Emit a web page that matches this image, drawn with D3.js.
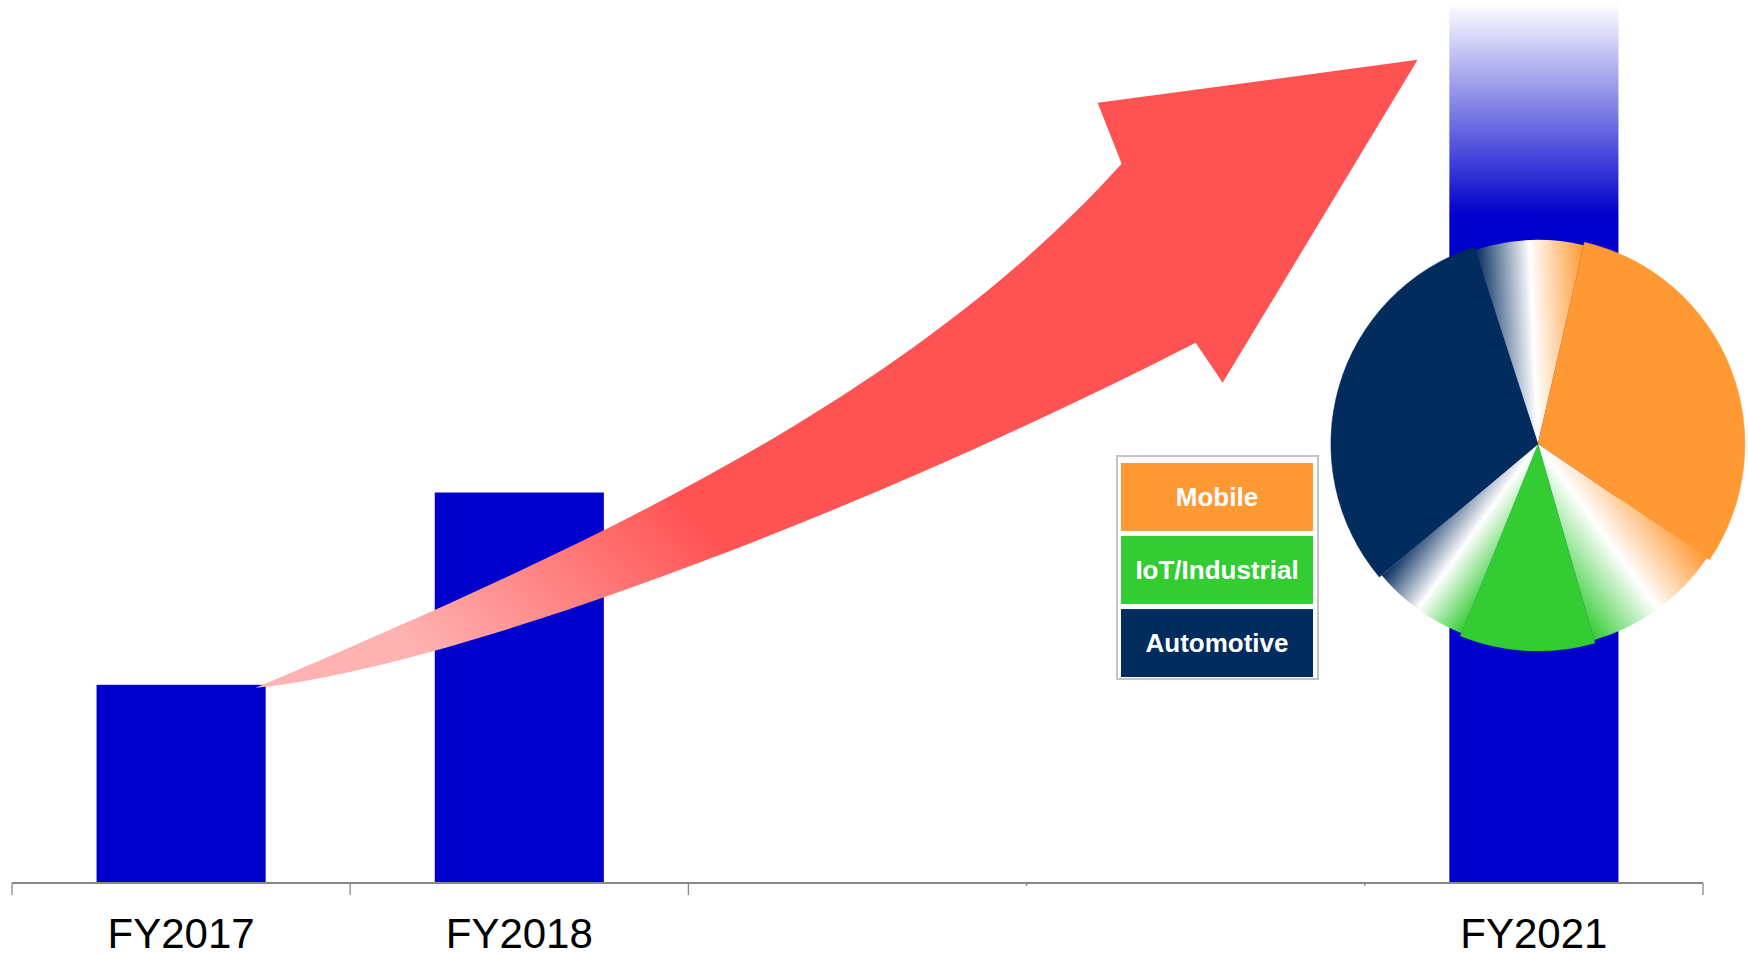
<!DOCTYPE html>
<html>
<head>
<meta charset="utf-8">
<script src="https://cdn.jsdelivr.net/npm/d3@7"></script>
<style>
  body { margin: 0; background: #fff; }
  text { font-family: "Liberation Sans", Arial, sans-serif; }
</style>
</head>
<body>
<div id="viz"></div>
<script>
/***************** Data *********************/
var categories = ["FY2017", "FY2018", "FY2019", "FY2020", "FY2021"];
var tickLabels = ["FY2017", "FY2018", "", "", "FY2021"];
var values     = [1.01, 1.99, null, null, 4.5];

// FY2021 mix, legend + pie segments (blend wedges go from one market to the next)
var legendNames = ["Mobile", "IoT/Industrial", "Automotive"];
var segFrom   = ["Automotive", "Mobile", "Mobile", "IoT/Industrial", "IoT/Industrial", "Automotive"];
var segTo     = ["Mobile", "Mobile", "IoT/Industrial", "IoT/Industrial", "Automotive", "Automotive"];
var segValues = [31, 111, 40, 38, 28, 112];

/***************** Layout / styles *********************/
var W = 1748, H = 956,
    axisY = 883,
    barColor = "#0000CC",
    axisColor = "#888",
    arrowRed = "#FF5252",
    arrowPink = "#FFB2B2";

var colors = { "Mobile": "#FF9933", "IoT/Industrial": "#33CC33", "Automotive": "#022B5E" };

var svg = d3.select("#viz")
    .append("svg")
    .attr("width", W)
    .attr("height", H);

svg.append("rect").attr("width", W).attr("height", H).attr("fill", "#fff");

var defs = svg.append("defs");

var x = d3.scaleBand().domain(categories).range([12, 1703])
    .paddingInner(0.5).paddingOuter(0.25);
var y = d3.scaleLinear().domain([0, 4.5]).range([axisY, 0]);

var data = categories.map(function(c, i) { return { cat: c, v: values[i], label: tickLabels[i] }; });

/* fading gradient for the last (projected) bar */
var fade = defs.append("linearGradient")
    .attr("id", "fadeBlue")
    .attr("gradientUnits", "userSpaceOnUse")
    .attr("x1", 0).attr("x2", 0)
    .attr("y1", 3).attr("y2", 215);
fade.append("stop").attr("offset", 0).attr("stop-color", barColor).attr("stop-opacity", 0);
fade.append("stop").attr("offset", 1).attr("stop-color", barColor).attr("stop-opacity", 1);

/***************** Bars *********************/
var last = categories[categories.length - 1];
svg.selectAll(".bar")
    .data(data.filter(function(d) { return d.v != null; }))
    .enter().append("rect")
    .attr("class", "bar")
    .attr("x", function(d) { return x(d.cat); })
    .attr("y", function(d) { return y(d.v); })
    .attr("width", x.bandwidth())
    .attr("height", function(d) { return y(0) - y(d.v); })
    .attr("fill", function(d) { return d.cat === last ? "url(#fadeBlue)" : barColor; });

/***************** Axis *********************/
var gap = (x.step() - x.bandwidth()) / 2;
var bounds = categories.map(function(c) { return x(c) - gap; });
bounds.push(x(last) + x.bandwidth() + gap);
var tickLen = [12, 12, 12, 3, 3, 12];

svg.append("line")
    .attr("x1", bounds[0]).attr("x2", bounds[bounds.length - 1])
    .attr("y1", axisY).attr("y2", axisY)
    .attr("stroke", axisColor).attr("stroke-width", 2);

svg.selectAll(".tick")
    .data(bounds)
    .enter().append("line")
    .attr("class", "tick")
    .attr("x1", function(d) { return d; })
    .attr("x2", function(d) { return d; })
    .attr("y1", axisY)
    .attr("y2", function(d, i) { return axisY + tickLen[i]; })
    .attr("stroke", axisColor).attr("stroke-width", 1.3);

svg.selectAll(".xlab")
    .data(data)
    .enter().append("text")
    .attr("class", "xlab")
    .attr("x", function(d) { return x(d.cat) + x.bandwidth() / 2; })
    .attr("y", 948)
    .attr("text-anchor", "middle")
    .style("font-size", "42px")
    .style("fill", "#000")
    .text(function(d) { return d.label; });

/***************** Growth arrow *********************/
var ag = defs.append("linearGradient")
    .attr("id", "arrowGrad")
    .attr("gradientUnits", "userSpaceOnUse")
    .attr("x1", 300).attr("y1", 534)
    .attr("x2", 508).attr("y2", 326);
ag.append("stop").attr("offset", 0).attr("stop-color", arrowPink);
ag.append("stop").attr("offset", 1).attr("stop-color", arrowRed);

// tail anchored at the top right corner of the first bar
var tx = x(categories[0]) + x.bandwidth() - 10,
    ty = y(values[0]) + 3;
var p = d3.path();
p.moveTo(tx, ty);
p.bezierCurveTo(tx + 304, ty - 130, tx + 644, ty - 278, tx + 866, ty - 524);
p.lineTo(tx + 842, ty - 585);
p.lineTo(tx + 1162, ty - 628);
p.lineTo(tx + 967, ty - 305);
p.lineTo(tx + 940, ty - 345);
p.bezierCurveTo(tx + 594, ty - 168, tx + 194, ty - 20, tx, ty);
p.closePath();

svg.append("path")
    .attr("class", "arrow")
    .attr("d", p.toString())
    .attr("fill", "url(#arrowGrad)");

/***************** Legend *********************/
var lg = svg.append("g").attr("class", "legend");
lg.append("rect")
    .attr("x", 1117).attr("y", 456)
    .attr("width", 201).attr("height", 223)
    .attr("fill", "#fff")
    .attr("stroke", "#C4C4C4")
    .attr("stroke-width", 2);

var ly = d3.scaleBand().domain(legendNames).range([463, 677]).paddingInner(0.07);
lg.selectAll(".lbox")
    .data(legendNames)
    .enter().append("rect")
    .attr("class", "lbox")
    .attr("x", 1121).attr("width", 192)
    .attr("y", function(d) { return ly(d); })
    .attr("height", ly.bandwidth())
    .attr("fill", function(d) { return colors[d]; });

lg.selectAll(".ltext")
    .data(legendNames)
    .enter().append("text")
    .attr("class", "ltext")
    .attr("x", 1217)
    .attr("y", function(d) { return ly(d) + ly.bandwidth() / 2; })
    .attr("dy", "0.34em")
    .attr("text-anchor", "middle")
    .style("font-size", "26px")
    .style("font-weight", "bold")
    .style("fill", "#fff")
    .text(function(d) { return d; });

/***************** Pie *********************/
var cx = x(last) + x.bandwidth() / 2 + 4, cy = 444, R = 207;
var pieG = svg.append("g").attr("transform", "translate(" + cx + "," + cy + ")");

var segs = segValues.map(function(v, i) { return { from: segFrom[i], to: segTo[i], v: v }; });
var pie = d3.pie().sort(null).value(function(d) { return d.v; })
    .startAngle(-18 * Math.PI / 180).endAngle(342 * Math.PI / 180);
var arcs = pie(segs);
var arc = d3.arc().innerRadius(0).outerRadius(R);
var blendArc = d3.arc().innerRadius(0).outerRadius(R - 3);

arcs.forEach(function(a, i) {
  if (a.data.from === a.data.to) {
    pieG.append("path")
        .attr("d", arc(a))
        .attr("fill", colors[a.data.from])
        .attr("stroke", colors[a.data.from])
        .attr("stroke-width", 0.5);
  } else {
    // linear blend across the chord: from -> white -> to
    var r = R - 3;
    var g = defs.append("linearGradient")
        .attr("id", "blend" + i)
        .attr("gradientUnits", "userSpaceOnUse")
        .attr("x1", r * Math.sin(a.startAngle)).attr("y1", -r * Math.cos(a.startAngle))
        .attr("x2", r * Math.sin(a.endAngle)).attr("y2", -r * Math.cos(a.endAngle));
    g.append("stop").attr("offset", 0).attr("stop-color", colors[a.data.from]);
    g.append("stop").attr("offset", 0.5).attr("stop-color", "#fff");
    g.append("stop").attr("offset", 1).attr("stop-color", colors[a.data.to]);
    pieG.append("path")
        .attr("d", blendArc(a))
        .attr("fill", "url(#blend" + i + ")");
  }
});
</script>
</body>
</html>
